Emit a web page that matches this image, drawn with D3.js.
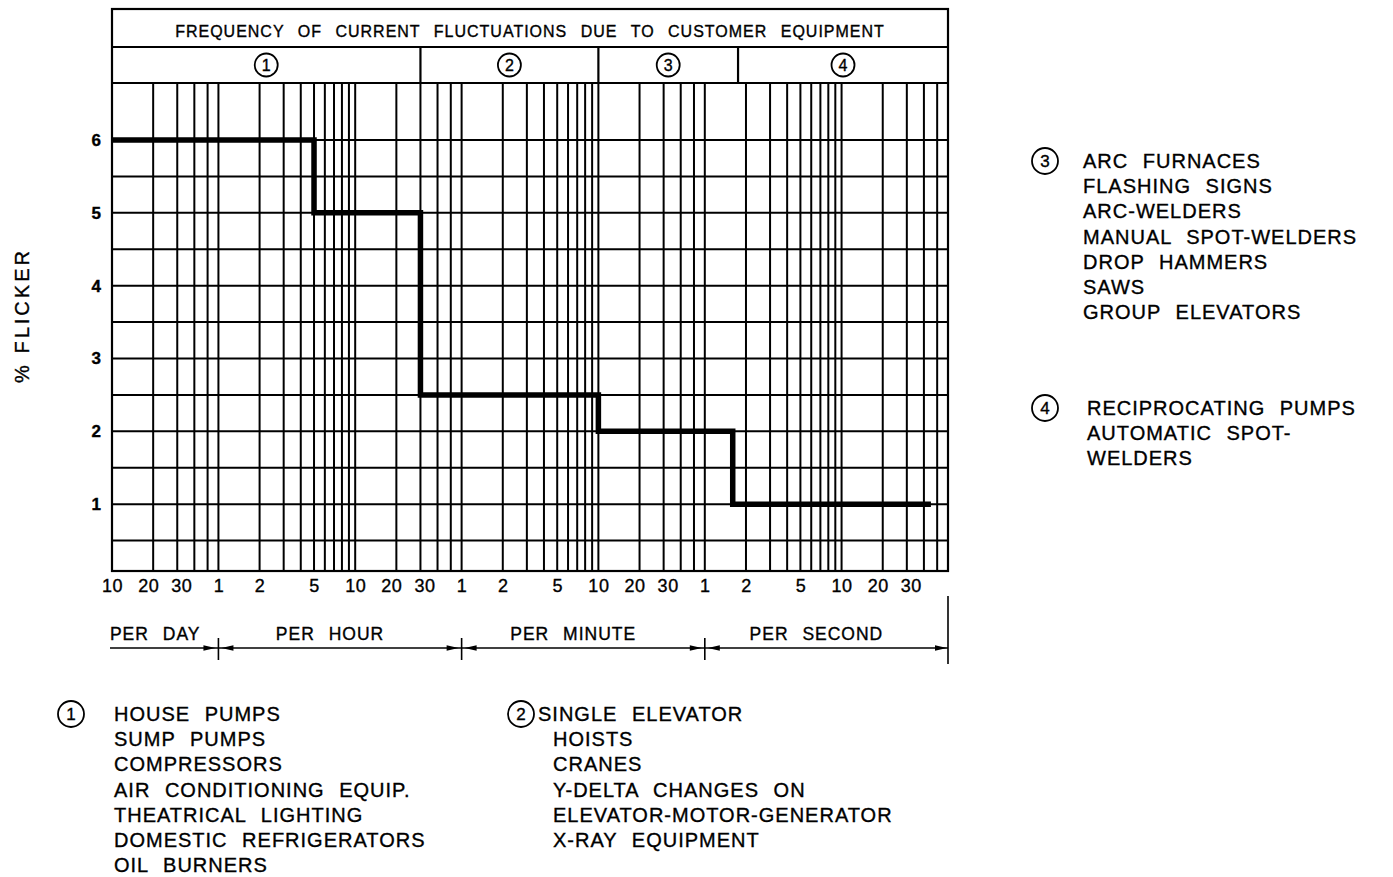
<!DOCTYPE html>
<html><head><meta charset="utf-8">
<script src="https://cdn.jsdelivr.net/npm/d3@7"></script>
<style>
body{margin:0;background:#fff;}
svg text{font-family:"Liberation Sans",Arial,sans-serif;fill:#000;stroke:#000;stroke-width:0.35px;}
</style></head><body>
<svg id="chart" width="1393" height="877"></svg>
<script>
// ---------------- data ----------------
const unitOrder = ["day", "hour", "minute", "second"];
const unitLabels = ["PER DAY", "PER HOUR", "PER MINUTE", "PER SECOND"];
const gridPerDay = [10, 20, 30, 40, 50];
const gridPerHour = [1, 2, 3, 4, 5, 6, 7, 8, 9, 10, 20, 30, 40, 50];
const gridPerMinute = [1, 2, 3, 4, 5, 6, 7, 8, 9, 10, 20, 30, 40, 50];
const gridPerSecond = [1, 2, 3, 4, 5, 6, 7, 8, 9, 10, 20, 30, 40, 50, 60];
const ticksPerDay = [10, 20, 30];
const ticksPerHour = [1, 2, 5, 10, 20, 30];
const ticksPerMinute = [1, 2, 5, 10, 20, 30];
const ticksPerSecond = [1, 2, 5, 10, 20, 30];
const flickerTicks = [1, 2, 3, 4, 5, 6];
const flickerGrid = [0.5, 1, 1.5, 2, 2.5, 3, 3.5, 4, 4.5, 5, 5.5, 6];
const curveRate = [10, 5, 30, 10, 1.6, 45];
const curveUnit = ["day", "hour", "hour", "minute", "second", "second"];
const curveFlicker = [6, 5, 2.5, 2, 1, 1];
const groupIds = ["1", "2", "3", "4"];
const groupStartRate = [10, 30, 10, 1.75];
const groupStartUnit = ["day", "hour", "minute", "second"];
const axisEndRate = 60, axisEndUnit = "second";
const chartTitle = "FREQUENCY OF CURRENT FLUCTUATIONS DUE TO CUSTOMER EQUIPMENT";
const yTitle = "% FLICKER";
const equip1 = ["HOUSE PUMPS", "SUMP PUMPS", "COMPRESSORS", "AIR CONDITIONING EQUIP.", "THEATRICAL LIGHTING", "DOMESTIC REFRIGERATORS", "OIL BURNERS"];
const equip2 = ["SINGLE ELEVATOR", "HOISTS", "CRANES", "Y-DELTA CHANGES ON", "ELEVATOR-MOTOR-GENERATOR", "X-RAY EQUIPMENT"];
const equip3 = ["ARC FURNACES", "FLASHING SIGNS", "ARC-WELDERS", "MANUAL SPOT-WELDERS", "DROP HAMMERS", "SAWS", "GROUP ELEVATORS"];
const equip4 = ["RECIPROCATING PUMPS", "AUTOMATIC SPOT-", "WELDERS"];

// ---------------- layout ----------------
const L = 112, R = 948, frameTop = 9, titleBottom = 47, headTop = 83, plotBottom = 571;
// drawing convention of the chart: each unit step along the axis is a factor of 60
const pos = (rate, unit) => rate * Math.pow(60, unitOrder.indexOf(unit));

const x = d3.scaleLog().domain([pos(10, "day"), pos(axisEndRate, axisEndUnit)]).range([L, R]);
const y = d3.scaleLinear().domain([0, 6]).range([577, 140]);

const svg = d3.select("#chart");
const spacing = s => s.attr("letter-spacing", 1).attr("word-spacing", 8);

// header frame
svg.append("rect").attr("x", L).attr("y", frameTop).attr("width", R - L).attr("height", plotBottom - frameTop)
  .attr("fill", "none").attr("stroke", "#000").attr("stroke-width", 2.2);
[titleBottom, headTop].forEach(yy => svg.append("line").attr("x1", L).attr("x2", R).attr("y1", yy).attr("y2", yy)
  .attr("stroke", "#000").attr("stroke-width", 2.2));

svg.append("text").attr("x", (L + R) / 2).attr("y", 37).attr("text-anchor", "middle")
  .attr("font-size", 16).text(chartTitle).call(spacing);

// group dividers + circled numbers
const groupStarts = groupStartRate.map((r, i) => pos(r, groupStartUnit[i]));
const groupEnds = groupStarts.slice(1).concat([pos(axisEndRate, axisEndUnit)]);
groupStarts.slice(1).forEach(g => svg.append("line").attr("x1", x(g)).attr("x2", x(g))
  .attr("y1", titleBottom).attr("y2", headTop).attr("stroke", "#000").attr("stroke-width", 2.2));

function circled(cx, cy, r, label, fs) {
  svg.append("circle").attr("cx", cx).attr("cy", cy).attr("r", r).attr("fill", "none")
    .attr("stroke", "#000").attr("stroke-width", 1.8);
  svg.append("text").attr("x", cx).attr("y", cy + fs * 0.36).attr("text-anchor", "middle")
    .attr("font-size", fs).text(label);
}
groupIds.forEach((id, i) => circled((x(groupStarts[i]) + x(groupEnds[i])) / 2, 65, 11.5, id, 16));

// grid
const g = svg.append("g");
const gridX = []
  .concat(gridPerDay.map(v => pos(v, "day")))
  .concat(gridPerHour.map(v => pos(v, "hour")))
  .concat(gridPerMinute.map(v => pos(v, "minute")))
  .concat(gridPerSecond.map(v => pos(v, "second")));
g.selectAll("line.v").data(gridX).join("line").attr("class", "v")
  .attr("x1", d => x(d)).attr("x2", d => x(d)).attr("y1", headTop).attr("y2", plotBottom)
  .attr("stroke", "#000").attr("stroke-width", 2);
g.selectAll("line.h").data(flickerGrid).join("line").attr("class", "h")
  .attr("x1", L).attr("x2", R).attr("y1", d => y(d)).attr("y2", d => y(d))
  .attr("stroke", "#000").attr("stroke-width", 2);

// y axis labels
const yAxis = d3.axisLeft(y).tickValues(flickerTicks).tickSize(0).tickPadding(11).tickFormat(d3.format("d"));
svg.append("g").attr("transform", `translate(${L},0)`).call(yAxis)
  .call(a => a.select(".domain").remove())
  .selectAll("text").attr("font-size", 17).attr("font-weight", "bold")
  .attr("font-family", '"Liberation Sans",Arial,sans-serif').attr("fill", "#000");

svg.append("text").attr("transform", "translate(29,317) rotate(-90)").attr("text-anchor", "middle")
  .attr("font-size", 20).attr("textLength", 132).attr("lengthAdjust", "spacing").text(yTitle);

// x tick labels via axis
const tickVals = [], tickText = [];
[[ticksPerDay, "day"], [ticksPerHour, "hour"], [ticksPerMinute, "minute"], [ticksPerSecond, "second"]]
  .forEach(([arr, u]) => arr.forEach(v => { tickVals.push(pos(v, u)); tickText.push(v); }));
const xAxis = d3.axisBottom(x).tickValues(tickVals).tickSize(0).tickPadding(0)
  .tickFormat((d, i) => tickText[i]);
svg.append("g").attr("transform", `translate(0,${plotBottom})`).call(xAxis)
  .call(a => a.select(".domain").remove())
  .selectAll("text").attr("font-size", 18).attr("font-family", '"Liberation Sans",Arial,sans-serif')
  .attr("fill", "#000").attr("dy", 0).attr("y", 21).attr("letter-spacing", 0.5)
  .attr("dx", (d, i) => tickText[i] === 20 ? -5 : tickText[i] === 30 ? 4 : 0);

// curve
const curveData = curveRate.map((r, i) => ({ f: pos(r, curveUnit[i]), v: curveFlicker[i] }));
svg.append("path").datum(curveData)
  .attr("d", d3.line().x(d => x(d.f)).y(d => y(d.v)).curve(d3.curveStepAfter))
  .attr("fill", "none").attr("stroke", "#000").attr("stroke-width", 5.5).attr("stroke-linejoin", "miter");

// unit dimension line
const dimY = 648;
const unitBounds = unitOrder.map(u => pos(1, u));
unitBounds[0] = pos(10, "day");
const unitEnds = unitBounds.slice(1).concat([pos(axisEndRate, axisEndUnit)]);
svg.append("line").attr("x1", x(unitBounds[0]) - 2).attr("x2", x(unitEnds[3])).attr("y1", dimY).attr("y2", dimY)
  .attr("stroke", "#000").attr("stroke-width", 1.6);
function arrow(tipX, dir) {
  const len = 12, hh = 2.8;
  svg.append("path").attr("d", `M${tipX},${dimY} L${tipX - dir * len},${dimY - hh} L${tipX - dir * len},${dimY + hh} Z`)
    .attr("fill", "#000");
}
unitBounds.slice(1).forEach(b => {
  const bx = x(b);
  svg.append("line").attr("x1", bx).attr("x2", bx).attr("y1", dimY - 10).attr("y2", dimY + 12)
    .attr("stroke", "#000").attr("stroke-width", 1.6);
  arrow(bx - 3, 1); arrow(bx + 3, -1);
});
const endX = x(unitEnds[3]);
svg.append("line").attr("x1", endX).attr("x2", endX).attr("y1", 596).attr("y2", 664)
  .attr("stroke", "#000").attr("stroke-width", 1.6);
arrow(endX - 1, 1);
unitLabels.forEach((lab, i) => {
  svg.append("text").attr("x", (x(unitBounds[i]) + x(unitEnds[i])) / 2 - 10).attr("y", 640)
    .attr("text-anchor", "middle").attr("font-size", 17.5).text(lab).call(spacing);
});

// equipment legends
function legend(list, id, cx, cy, tx, firstDx) {
  circled(cx, cy, 13, id, 17);
  list.forEach((t, i) => {
    svg.append("text").attr("x", tx + (i === 0 ? firstDx : 0)).attr("y", cy + 7 + i * 25.2)
      .attr("font-size", 20).text(t).call(spacing);
  });
}
legend(equip1, groupIds[0], 71, 714, 114, 0);
legend(equip2, groupIds[1], 521, 714, 553, -15);
legend(equip3, groupIds[2], 1045, 161, 1083, 0);
legend(equip4, groupIds[3], 1045, 408, 1087, 0);
</script>
</body></html>
